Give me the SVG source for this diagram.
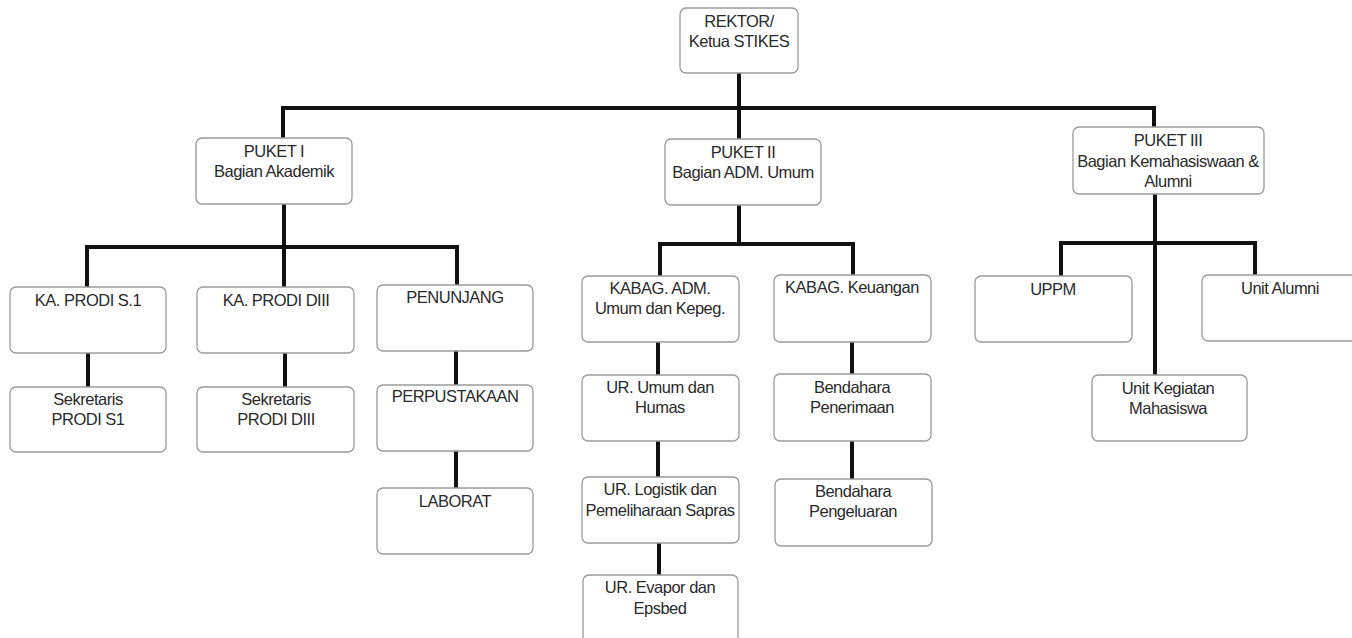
<svg xmlns="http://www.w3.org/2000/svg" width="1352" height="638" viewBox="0 0 1352 638">
<style>
.box{fill:#fff;stroke:#9a9a9a;stroke-width:1.3}
.t{font-family:"Liberation Sans",Arial,sans-serif;font-size:16.5px;letter-spacing:-0.5px;fill:#2a2a2a;text-anchor:middle}
.c{fill:none;stroke:#111;stroke-width:4;stroke-linejoin:miter;stroke-linecap:butt}
</style>
<rect width="1352" height="638" fill="#fff"/>
<g id="connectors">
<path class="c" d="M739,73 V108"/>
<path class="c" d="M283,138 V108 H1154 V127"/>
<path class="c" d="M739,108 V139"/>
<path class="c" d="M284,204 V247"/>
<path class="c" d="M87,287 V247 H457 V285"/>
<path class="c" d="M284,247 V287"/>
<path class="c" d="M88,353 V387"/>
<path class="c" d="M285,353 V387"/>
<path class="c" d="M456,351 V385"/>
<path class="c" d="M456,451 V488"/>
<path class="c" d="M739,205 V244"/>
<path class="c" d="M660,276 V244 H853 V275"/>
<path class="c" d="M658,342 V375"/>
<path class="c" d="M658,441 V477"/>
<path class="c" d="M659,543 V575"/>
<path class="c" d="M852,342 V374"/>
<path class="c" d="M852,441 V479"/>
<path class="c" d="M1155,194 V375"/>
<path class="c" d="M1061,276 V243 H1255 V275"/>
</g>
<g id="rektor"><rect class="box" x="680" y="8" width="118" height="65" rx="6"/><text class="t" x="739" y="27">REKTOR/</text><text class="t" x="739" y="47">Ketua STIKES</text></g>
<g id="puket1"><rect class="box" x="196" y="138" width="156" height="66" rx="6"/><text class="t" x="274" y="157">PUKET I</text><text class="t" x="274" y="177">Bagian Akademik</text></g>
<g id="puket2"><rect class="box" x="665" y="139" width="156" height="66" rx="6"/><text class="t" x="743" y="158">PUKET II</text><text class="t" x="743" y="178">Bagian ADM. Umum</text></g>
<g id="puket3"><rect class="box" x="1073" y="127" width="191" height="67" rx="6"/><text class="t" x="1168" y="146">PUKET III</text><text class="t" x="1168" y="167">Bagian Kemahasiswaan &amp;</text><text class="t" x="1168" y="187">Alumni</text></g>
<g id="kaprodi-s1"><rect class="box" x="10" y="287" width="156" height="66" rx="6"/><text class="t" x="88" y="306">KA. PRODI S.1</text></g>
<g id="kaprodi-diii"><rect class="box" x="197" y="287" width="157" height="66" rx="6"/><text class="t" x="276" y="306">KA. PRODI DIII</text></g>
<g id="penunjang"><rect class="box" x="377" y="285" width="156" height="66" rx="6"/><text class="t" x="455" y="303">PENUNJANG</text></g>
<g id="sek-s1"><rect class="box" x="10" y="387" width="156" height="65" rx="6"/><text class="t" x="88" y="405">Sekretaris</text><text class="t" x="88" y="425">PRODI S1</text></g>
<g id="sek-diii"><rect class="box" x="197" y="387" width="157" height="65" rx="6"/><text class="t" x="276" y="405">Sekretaris</text><text class="t" x="276" y="425">PRODI DIII</text></g>
<g id="perpustakaan"><rect class="box" x="377" y="385" width="156" height="66" rx="6"/><text class="t" x="455" y="402">PERPUSTAKAAN</text></g>
<g id="laborat"><rect class="box" x="377" y="488" width="156" height="66" rx="6"/><text class="t" x="455" y="507">LABORAT</text></g>
<g id="kabag-adm"><rect class="box" x="582" y="276" width="157" height="66" rx="6"/><text class="t" x="660" y="294">KABAG. ADM.</text><text class="t" x="660" y="314">Umum dan Kepeg.</text></g>
<g id="kabag-keu"><rect class="box" x="774" y="275" width="157" height="67" rx="6"/><text class="t" x="852" y="293">KABAG. Keuangan</text></g>
<g id="ur-umum"><rect class="box" x="582" y="375" width="157" height="66" rx="6"/><text class="t" x="660" y="393">UR. Umum dan</text><text class="t" x="660" y="413">Humas</text></g>
<g id="ur-logistik"><rect class="box" x="582" y="477" width="157" height="66" rx="6"/><text class="t" x="660" y="495">UR. Logistik dan</text><text class="t" x="660" y="516">Pemeliharaan Sapras</text></g>
<g id="ur-evapor"><rect class="box" x="583" y="575" width="155" height="72" rx="6"/><text class="t" x="660" y="593">UR. Evapor dan</text><text class="t" x="660" y="614">Epsbed</text></g>
<g id="bend-penerimaan"><rect class="box" x="774" y="374" width="157" height="67" rx="6"/><text class="t" x="852" y="393">Bendahara</text><text class="t" x="852" y="413">Penerimaan</text></g>
<g id="bend-pengeluaran"><rect class="box" x="775" y="479" width="157" height="67" rx="6"/><text class="t" x="853" y="497">Bendahara</text><text class="t" x="853" y="517">Pengeluaran</text></g>
<g id="uppm"><rect class="box" x="975" y="276" width="157" height="66" rx="6"/><text class="t" x="1053" y="295">UPPM</text></g>
<g id="unit-alumni"><rect class="box" x="1202" y="275" width="157" height="66" rx="6"/><text class="t" x="1280" y="294">Unit Alumni</text></g>
<g id="unit-kegiatan"><rect class="box" x="1092" y="375" width="155" height="66" rx="6"/><text class="t" x="1168" y="394">Unit Kegiatan</text><text class="t" x="1168" y="414">Mahasiswa</text></g>
</svg>
